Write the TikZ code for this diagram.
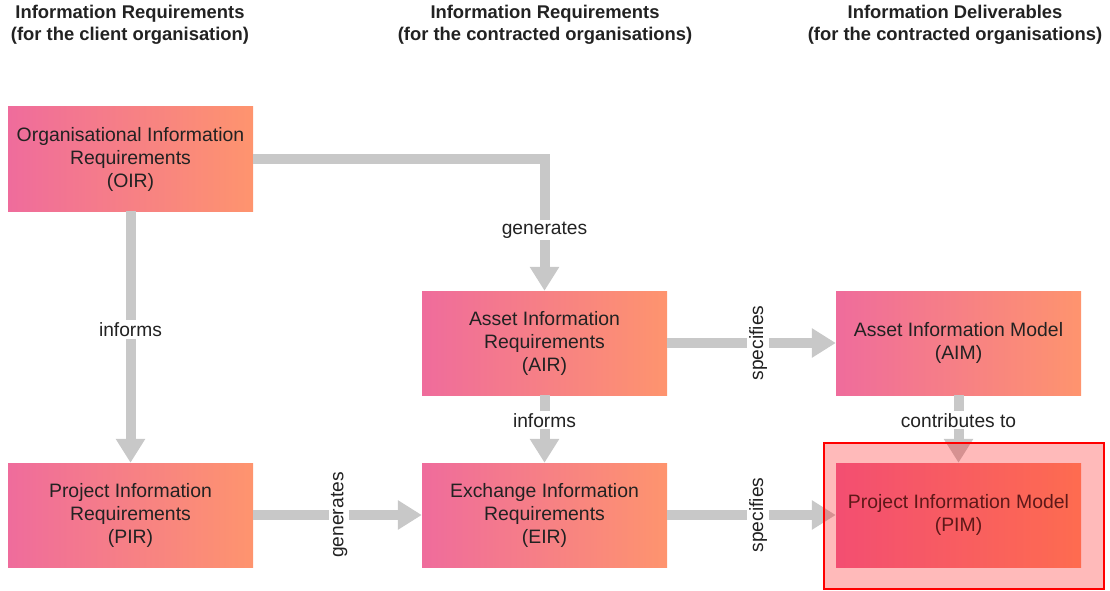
\documentclass[tikz,border=0pt]{standalone}
\usepackage{fontspec}
\setmainfont{Liberation Sans}
\usetikzlibrary{arrows.meta}

\definecolor{boxL}{RGB}{239,108,156}
\definecolor{boxR}{RGB}{254,148,110}
\definecolor{arrowgray}{RGB}{200,200,200}
\definecolor{txt}{RGB}{34,34,34}

\tikzset{
  box/.style={minimum width=245pt, minimum height=104pt, inner sep=0pt,
    left color=boxL, right color=boxR, draw=none, align=center, text=txt,
    font=\fontsize{19.4}{23}\selectfont},
  flow/.style={draw=arrowgray, line width=10pt, -{Triangle[length=24pt,width=28pt]}},
  lbl/.style={fill=white, inner sep=2pt, text=txt, font=\fontsize{19.2}{22}\selectfont},
  head/.style={align=center, text=txt, font=\bfseries\fontsize{18.4}{22}\selectfont},
  highlight/.style={draw=red, line width=2pt, fill=red, fill opacity=0.27,
    minimum width=280pt, minimum height=146pt, inner sep=0pt}
}

\begin{document}
\begin{tikzpicture}[x=1pt, y=-1pt]
  \useasboundingbox (0,0) rectangle (1110,591);

  % column headings
  \node[head] (h1) at (130,25) {Information Requirements\\(for the client organisation)};
  \node[head] (h2) at (545,25) {Information Requirements\\(for the contracted organisations)};
  \node[head] (h3) at (955,25) {Information Deliverables\\(for the contracted organisations)};

  % information blocks
  \node[box] (OIR) at (130.5,159) {Organisational Information\\Requirements\\(OIR)};
  \node[box] (PIR) at (130.5,515) {Project Information\\Requirements\\(PIR)};
  \node[box] (AIR) at (544.5,343) {Asset Information\\Requirements\\(AIR)};
  \node[box] (EIR) at (544.5,515) {Exchange Information\\Requirements\\(EIR)};
  \node[box] (AIM) at (958.5,343) {Asset Information Model\\(AIM)};
  \node[box] (PIM) at (958.5,515) {Project Information Model\\(PIM)};

  % relations
  \draw[flow] (OIR.east) -| (AIR.north) node[lbl, pos=0.77] {generates};
  \draw[flow] (OIR.south) -- (PIR.north) node[lbl, pos=0.47] {informs};
  \draw[flow] (AIR.south) -- (EIR.north) node[lbl, pos=0.37] {informs};
  \draw[flow] (AIR.east) -- (AIM.west) node[lbl, pos=0.54, rotate=90] {specifies};
  \draw[flow] (PIR.east) -- (EIR.west) node[lbl, pos=0.51, rotate=90] {generates};
  \draw[flow] (EIR.east) -- (PIM.west) node[lbl, pos=0.54, rotate=90] {specifies};
  \draw[flow] (AIM.south) -- (PIM.north) node[lbl, pos=0.37] {contributes to};

  % emphasis on the project information model
  \node[highlight] (focus) at (964,516) {};
\end{tikzpicture}
\end{document}
